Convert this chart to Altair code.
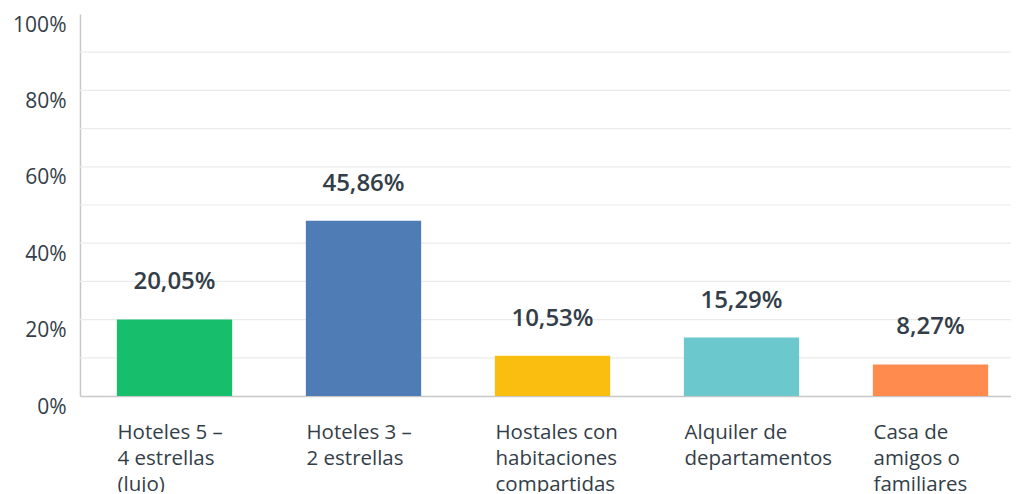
import altair as alt
import pandas as pd

categories = [
    "Hoteles 5 –\n4 estrellas\n(lujo)",
    "Hoteles 3 –\n2 estrellas",
    "Hostales con\nhabitaciones\ncompartidas",
    "Alquiler de\ndepartamentos",
    "Casa de\namigos o\nfamiliares",
]
values = [20.05, 45.86, 10.53, 15.29, 8.27]
value_labels = ["20,05%", "45,86%", "10,53%", "15,29%", "8,27%"]
colors = ["#17BF6C", "#507CB6", "#F9BE10", "#6BC8CD", "#FF8B4F"]
y_ticks = [0, 20, 40, 60, 80, 100]
y_grid = [10, 20, 30, 40, 50, 60, 70, 80, 90]

df = pd.DataFrame({"cat": categories, "val": values, "lab": value_labels, "col": colors})
grid_df = pd.DataFrame({"g": y_grid})

W, H = 931, 382
FONT = "Open Sans"

x_scale = alt.Scale(range=[0, 945], paddingInner=0.39, paddingOuter=0.195)
x_axis = alt.Axis(
    title=None,
    domain=True,
    domainColor="#c8c8c8",
    domainWidth=1.5,
    ticks=False,
    grid=False,
    labelAngle=0,
    labelAlign="left",
    labelBaseline="top",
    labelOffset=-57,
    labelPadding=26,
    labelFontSize=20.5,
    labelFont=FONT,
    labelColor="#333e48",
    labelLineHeight=26,
    labelExpr="split(datum.label, '\\n')",
    labelLimit=0,
)
y_scale = alt.Scale(domain=[0, 100], nice=False)
y_axis = alt.Axis(
    title=None,
    values=y_ticks,
    grid=False,
    ticks=False,
    domain=True,
    domainColor="#c8c8c8",
    domainWidth=1.5,
    labelExpr="datum.value + '%'",
    labelFontSize=21,
    labelFont=FONT,
    labelColor="#333e48",
    labelBaseline="top",
    labelPadding=14,
)

grid = alt.Chart(grid_df).mark_rule(color="#ebebeb", strokeWidth=1.2).encode(
    y=alt.Y("g:Q", scale=y_scale, axis=y_axis),
    x=alt.value(0),
    x2=alt.value(W),
)

bars = alt.Chart(df).mark_bar().encode(
    x=alt.X("cat:N", sort=categories, scale=x_scale, axis=x_axis),
    y=alt.Y("val:Q", scale=y_scale, axis=y_axis),
    color=alt.Color("col:N", scale=None),
)

texts = alt.Chart(df).mark_text(
    fontSize=24, font=FONT, fontWeight=600, color="#333e48", baseline="middle", dy=-37
).encode(
    x=alt.X("cat:N", sort=categories, scale=x_scale, axis=x_axis),
    y=alt.Y("val:Q", scale=y_scale, axis=y_axis),
    text="lab:N",
)

chart = (
    alt.layer(grid, bars, texts)
    .properties(
        width=W,
        height=H,
        background="white",
        view=alt.ViewBackground(stroke="transparent", strokeWidth=0, strokeOpacity=0),
        autosize=alt.AutoSizeParams(type="none"),
        padding={"left": 72, "top": 6, "right": 0, "bottom": 96},
    )
    .configure_view(stroke="transparent", strokeWidth=0, strokeOpacity=0)
    .configure_axis(grid=False)
)

chart.save("out.html", embed_options={"renderer": "svg", "actions": False})
